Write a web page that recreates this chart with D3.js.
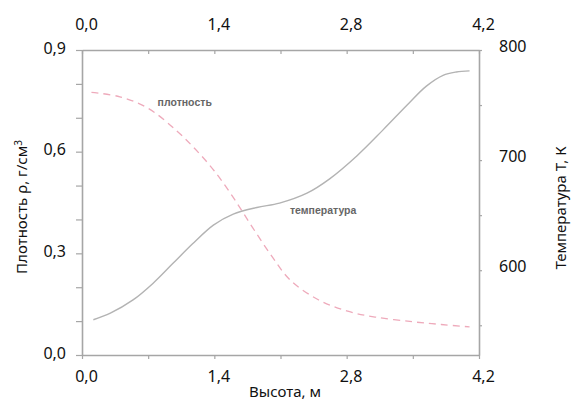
<!DOCTYPE html>
<html><head><meta charset="utf-8">
<script src="https://cdn.jsdelivr.net/npm/d3@7"></script>
<style>body{margin:0;background:#fff}svg{display:block}</style>
</head><body>
<svg id="c" width="573" height="400"></svg>
<script>
const densityX = [0.1, 0.4, 0.7, 1.0, 1.2, 1.4, 1.6, 1.8, 2.0, 2.2, 2.5, 2.8, 3.1, 3.5, 3.8, 4.1];
const densityV = [0.775, 0.762, 0.728, 0.662, 0.607, 0.543, 0.465, 0.378, 0.295, 0.222, 0.163, 0.13, 0.112, 0.098, 0.09, 0.083];
const tempX = [0.12, 0.3, 0.54, 0.75, 0.96, 1.17, 1.39, 1.6, 1.85, 2.09, 2.38, 2.62, 2.91, 3.18, 3.44, 3.64, 3.82, 3.96, 4.1];
const tempV = [555, 561, 573, 588, 606, 624, 641, 651, 657, 661, 670, 683, 704, 727, 750, 767, 777, 780, 781];
const xTicks = [0, 0.7, 1.4, 2.1, 2.8, 3.5, 4.2];
const xTickLabels = ["0,0", "", "1,4", "", "2,8", "", "4,2"];
const leftTicks = [0, 0.1, 0.2, 0.3, 0.4, 0.5, 0.6, 0.7, 0.8, 0.9];
const leftTickLabels = ["0,0", "", "", "0,3", "", "", "0,6", "", "", "0,9"];
const rightTicks = [550, 600, 650, 700, 750, 800];
const rightTickLabels = ["", "600", "", "700", "", "800"];

const svg = d3.select("#c");
const L = 82, R = 479, T = 50, B = 355;
const font = "'Noto Sans', sans-serif";
const x = d3.scaleLinear().domain([0, 4.2]).range([L, R]);
const yL = d3.scaleLinear().domain([0, 0.9]).range([B, T]);
const yR = d3.scaleLinear().domain([523, 800]).range([B, T]);
const axisCol = "#a6a6a6";

function styleAxis(g){
  g.select(".domain").attr("stroke", axisCol).attr("stroke-width", 1.6);
  g.selectAll(".tick line").attr("stroke", axisCol).attr("stroke-width", 1.2);
  g.selectAll(".tick text").attr("fill", "#111").attr("font-family", font).attr("font-size", 16);
}
const fmtFrom = (ticks, labels) => (d) => labels[ticks.indexOf(d)];

svg.append("g").attr("transform", `translate(0,${B})`)
  .call(d3.axisBottom(x).tickValues(xTicks).tickFormat(fmtFrom(xTicks, xTickLabels)).tickSize(4).tickSizeOuter(0).tickPadding(12))
  .call(styleAxis).call(g => g.selectAll(".tick text").attr("dx", 4));
svg.append("g").attr("transform", `translate(0,${T})`)
  .call(d3.axisTop(x).tickValues(xTicks).tickFormat(fmtFrom(xTicks, xTickLabels)).tickSize(-4).tickSizeOuter(0).tickPadding(20))
  .call(styleAxis).call(g => g.selectAll(".tick text").attr("dx", 4));
svg.append("g").attr("transform", `translate(${L},0)`)
  .call(d3.axisLeft(yL).tickValues(leftTicks).tickFormat(fmtFrom(leftTicks, leftTickLabels)).tickSize(6).tickSizeOuter(0).tickPadding(10))
  .call(styleAxis).call(g => g.selectAll(".tick text").attr("dy", "0.2em"));
svg.append("g").attr("transform", `translate(${R},0)`)
  .call(d3.axisRight(yR).tickValues(rightTicks).tickFormat(fmtFrom(rightTicks, rightTickLabels)).tickSize(3).tickSizeOuter(0).tickPadding(17))
  .call(styleAxis).call(g => g.selectAll(".tick text").attr("dy", "0.1em"));

// curves
const lineD = d3.line().curve(d3.curveCatmullRom.alpha(0.5)).x((d,i) => x(densityX[i])).y(d => yL(d));
svg.append("path").datum(densityV).attr("d", lineD).attr("fill", "none")
  .attr("stroke", "#eeaabb").attr("stroke-width", 1.3).attr("stroke-dasharray", "7,5");
const lineT = d3.line().curve(d3.curveCatmullRom.alpha(0.5)).x((d,i) => x(tempX[i])).y(d => yR(d));
svg.append("path").datum(tempV).attr("d", lineT).attr("fill", "none")
  .attr("stroke", "#b3b3b3").attr("stroke-width", 1.4);

// in-plot labels
svg.append("text").attr("x", x(0.8)).attr("y", yL(0.735)).text("плотность")
  .attr("font-family", "'Liberation Sans', Arial, sans-serif").attr("font-size", 10.5).attr("fill", "#666").attr("font-weight", "bold");
svg.append("text").attr("x", x(2.2)).attr("y", yR(651)).text("температура")
  .attr("font-family", "'Liberation Sans', Arial, sans-serif").attr("font-size", 10.5).attr("fill", "#666").attr("font-weight", "bold");

// axis titles
svg.append("text").attr("x", 285).attr("y", 397).attr("text-anchor", "middle")
  .attr("font-family", font).attr("font-size", 15).attr("fill", "#111").text("Высота, м");
const lt = svg.append("text").attr("transform", "translate(27,207) rotate(-90)").attr("text-anchor", "middle")
  .attr("font-family", font).attr("font-size", 15).attr("fill", "#111");
lt.append("tspan").text("Плотность ρ, г/см");
lt.append("tspan").text("3").attr("font-size", 10).attr("dy", "-0.55em");
svg.append("text").attr("transform", "translate(566,208) rotate(-90)").attr("text-anchor", "middle")
  .attr("font-family", font).attr("font-size", 15).attr("fill", "#111").text("Температура Т, К");
</script>
</body></html>
